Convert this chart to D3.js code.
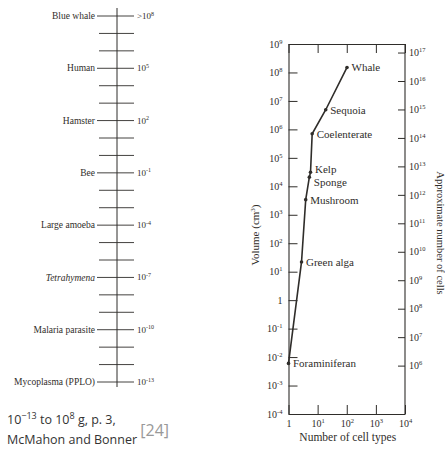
<!DOCTYPE html>
<html><head><meta charset="utf-8">
<script src="https://cdn.jsdelivr.net/npm/d3@7"></script>
<style>
body{margin:0;background:#fff;}
svg{display:block;}
</style></head>
<body>
<svg id="c" width="445" height="457"></svg>
<script>
// ---- Left panel data: mass scale (g) ----
const organisms = ["Blue whale","Human","Hamster","Bee","Large amoeba","Tetrahymena","Malaria parasite","Mycoplasma (PPLO)"];
const massExp = [8,5,2,-1,-4,-7,-10,-13];
const massPrefix = [">","","","","","","",""];
const scaleTickExps = d3.range(8, -14, -1);

// ---- Right panel data ----
const cellNames = ["Foraminiferan","Green alga","Mushroom","Sponge","Kelp","Coelenterate","Sequoia","Whale"];
const cellTypes = [1, 2.8, 3.9, 5.2, 5.7, 6.5, 19, 102];
const volumes = [0.006, 22, 3400, 21000, 31000, 7e5, 4.9e6, 1.5e8];
const volTicks = [1e-4,1e-3,1e-2,1e-1,1,1e1,1e2,1e3,1e4,1e5,1e6,1e7,1e8,1e9];
const cellCountTicks = [1e6,1e7,1e8,1e9,1e10,1e11,1e12,1e13,1e14,1e15,1e16,1e17];
const typeTicks = [1,10,100,1000,10000];

const svg = d3.select("#c");
const ink = "#2f2d2a";
const serif = "'Liberation Serif','DejaVu Serif',serif";

function supLabel(sel, base, exp, supSize, dy){
  sel.text(null);
  sel.append("tspan").text(base);
  sel.append("tspan").attr("font-size", supSize).attr("dy", dy).text(exp);
}

// ================= Left panel =================
const L = svg.append("g").attr("font-family", serif).attr("fill", ink);
const ms = d3.scaleLinear().domain([8, -13]).range([16, 382]);
const cx = 117;
L.append("line").attr("x1", cx).attr("x2", cx).attr("y1", 8).attr("y2", 387)
  .attr("stroke", ink).attr("stroke-width", 1);
L.selectAll("line.t").data(scaleTickExps).join("line").attr("class","t")
  .attr("x1", d => massExp.includes(d) ? 97 : 99)
  .attr("x2", d => massExp.includes(d) ? 134 : 134)
  .attr("y1", d => ms(d)).attr("y2", d => ms(d))
  .attr("stroke", ink).attr("stroke-width", 0.9);
L.selectAll("text.org").data(organisms).join("text").attr("class","org")
  .attr("x", 95).attr("y", (d,i) => ms(massExp[i]) + 3.2)
  .attr("text-anchor","end").attr("font-size", 9.5)
  .attr("font-style", d => d === "Tetrahymena" ? "italic" : "normal")
  .text(d => d);
L.selectAll("text.mx").data(massExp).join("text").attr("class","mx")
  .attr("x", 137).attr("y", d => ms(d) + 3)
  .attr("font-size", 9)
  .each(function(d,i){ supLabel(d3.select(this), massPrefix[i] + "10", String(d).replace("-", "-"), 6, -3.5); });

// caption
const cap = svg.append("g").attr("font-family","'Open Sans','Noto Sans',sans-serif").attr("fill","#333");
const c1 = cap.append("text").attr("x", 7).attr("y", 424).attr("font-size", 12.5);
c1.append("tspan").text("10");
c1.append("tspan").attr("font-size", 9).attr("dy", -5).text("\u221213");
c1.append("tspan").attr("dy", 5).text(" to 10");
c1.append("tspan").attr("font-size", 9).attr("dy", -5).text("8");
c1.append("tspan").attr("dy", 5).text(" g, p. 3,");
const c2 = cap.append("text").attr("x", 7).attr("y", 444).attr("font-size", 12.5);
c2.append("tspan").text("McMahon and Bonner ");
c2.append("tspan").attr("font-size", 16).attr("dy", -8).attr("fill", "#999").text("[24]");

// ================= Right panel =================
const x0 = 288.5, x1 = 405, yTop = 44, yBot = 414;
const xs = d3.scaleLog().domain([1, 1e4]).range([x0, x1]);
const ys = d3.scaleLog().domain([1e-4, 1e9]).range([yBot, yTop]);
const yr = d3.scaleLog().domain([Math.pow(10, 4.3), Math.pow(10, 17.3)]).range([yBot, yTop]);

const R = svg.append("g").attr("font-family", serif);
function styleAxis(g){
  g.selectAll("path").attr("stroke", ink).attr("stroke-width", 1.1);
  g.selectAll("line").attr("stroke", ink).attr("stroke-width", 1);
  g.selectAll("text").attr("fill", ink).attr("font-family", serif).attr("font-size", 10);
}
function expOf(v){ return Math.round(Math.log10(v)); }

// left axis
const gl = R.append("g").attr("transform", `translate(${x0},0)`)
  .call(d3.axisLeft(ys).tickValues(volTicks).tickSizeInner(-9).tickSizeOuter(0).tickPadding(6));
styleAxis(gl);
gl.selectAll(".tick text").each(function(d){
  const e = expOf(d);
  if (e === 0) d3.select(this).text("1");
  else supLabel(d3.select(this), "10", e < 0 ? "-" + (-e) : String(e), 6.5, -4);
});

// right axis
const gr = R.append("g").attr("transform", `translate(${x1},0)`)
  .call(d3.axisRight(yr).tickValues(cellCountTicks).tickSizeInner(-7).tickSizeOuter(0).tickPadding(4));
styleAxis(gr);
gr.select("path").attr("d", `M0,${yTop}V${yBot}`);
gr.selectAll(".tick text").each(function(d){
  supLabel(d3.select(this), "10", String(expOf(d)), 6.5, -4);
});

// bottom axis
const gb = R.append("g").attr("transform", `translate(0,${yBot})`)
  .call(d3.axisBottom(xs).tickValues(typeTicks).tickSizeInner(-9).tickSizeOuter(0).tickPadding(4));
styleAxis(gb);
gb.selectAll(".tick text").attr("dy", "0.9em").each(function(d){
  const e = expOf(d);
  if (e === 0) d3.select(this).text("1");
  else supLabel(d3.select(this), "10", String(e), 6.5, -4);
});
gb.selectAll(".tick text tspan:last-child").attr("dy", -4);

// top axis
const gt = R.append("g").attr("transform", `translate(0,${yTop})`)
  .call(d3.axisTop(xs).tickValues(typeTicks).tickSizeInner(-9).tickSizeOuter(0).tickFormat(""));
styleAxis(gt);

// titles
R.append("text").attr("x", (x0 + x1) / 2 + 1).attr("y", 441).attr("text-anchor","middle")
  .attr("font-size", 11.5).attr("fill", ink).text("Number of cell types");
const vt = R.append("text").attr("transform", "translate(259,235) rotate(-90)")
  .attr("text-anchor","middle").attr("font-size", 11).attr("fill", ink);
vt.append("tspan").text("Volume (cm");
vt.append("tspan").attr("font-size", 7).attr("dy", -4).text("3");
vt.append("tspan").attr("dy", 4).text(")");
R.append("text").attr("transform", "translate(437,233) rotate(90)")
  .attr("text-anchor","middle").attr("font-size", 10.5).attr("fill", ink)
  .text("Approximate number of cells");

// data line
const pts = cellNames.map((n, i) => ({name: n, x: cellTypes[i], y: volumes[i]}));
R.append("path").datum(pts)
  .attr("d", d3.line().x(d => xs(d.x)).y(d => ys(d.y)))
  .attr("fill","none").attr("stroke", ink).attr("stroke-width", 1.6);
R.selectAll("circle").data(pts).join("circle")
  .attr("cx", d => xs(d.x)).attr("cy", d => ys(d.y)).attr("r", 1.8).attr("fill", ink);
const labelShift = {"Kelp": -3, "Sponge": 5};
R.selectAll("text.lbl").data(pts).join("text").attr("class","lbl")
  .attr("x", d => xs(d.x) + 4.5)
  .attr("y", d => ys(d.y) + 4 + (labelShift[d.name] || 0))
  .attr("font-size", 11).attr("fill", ink).text(d => d.name);
</script>
</body></html>
